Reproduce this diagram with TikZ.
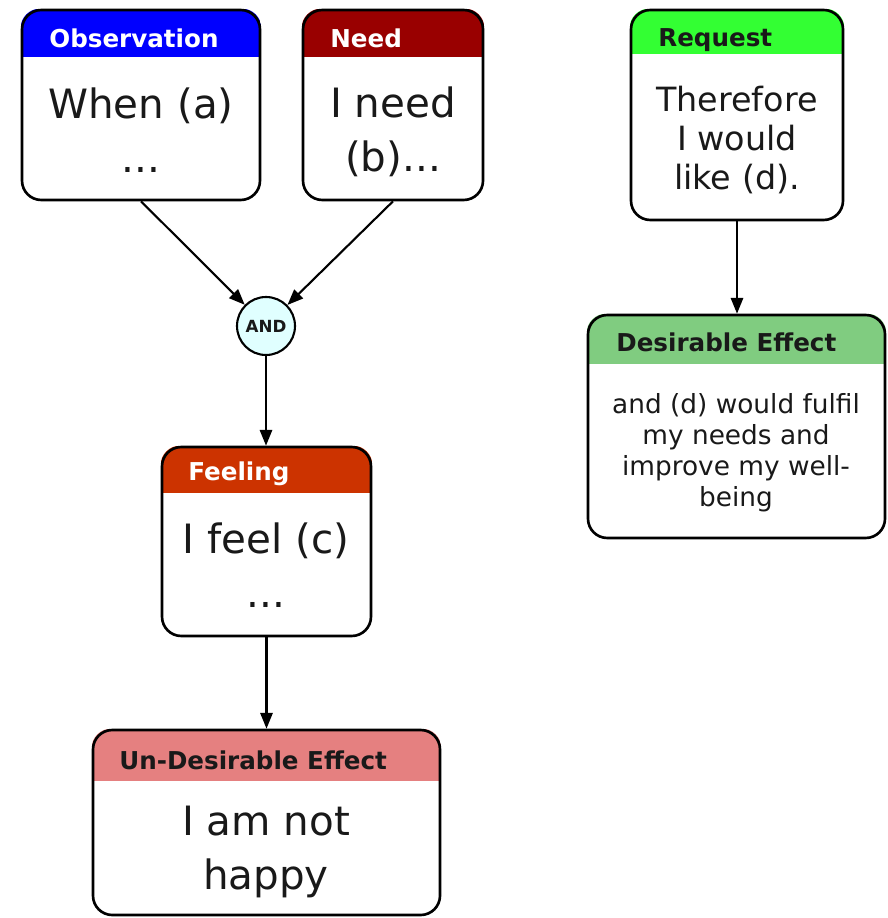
\documentclass[tikz,border=0pt]{standalone}
\usepackage{fontspec}
\setmainfont{DejaVu Sans}
\usetikzlibrary{calc,fit,backgrounds,arrows.meta}

\definecolor{obsblue}{RGB}{0,0,255}
\definecolor{needred}{RGB}{153,0,0}
\definecolor{reqgreen}{RGB}{51,255,51}
\definecolor{desgreen}{RGB}{128,204,128}
\definecolor{feelred}{RGB}{204,51,0}
\definecolor{udepink}{RGB}{229,128,128}
\definecolor{andcyan}{RGB}{224,255,255}
\definecolor{ink}{RGB}{25,25,25}

\tikzset{
  box/.style={draw, line width=1.5pt, rounded corners=11pt, inner sep=0pt},
  hdr/.style={font=\fontsize{14}{16}\selectfont\bfseries, anchor=west, inner sep=0pt, text=ink},
  body/.style={align=center, inner sep=0pt, text=ink, font=\fontsize{23}{30.6}\selectfont},
  arr/.style={-{Triangle[length=9pt,width=7pt]}, line width=1.2pt},
}

% header band of a box: node, colour, depth
\newcommand{\hdrfill}[3]{%
  \begin{scope}
    \clip[rounded corners=11pt] (#1.south west) rectangle (#1.north east);
    \fill[#2] (#1.north west) rectangle ($(#1.north east)+(0,#3)$);
  \end{scope}}

\begin{document}
\begin{tikzpicture}[x=0.02cm,y=-0.02cm]
\useasboundingbox (0,0) rectangle (887,918);
% boxes
\node[box, fit={(22,10) (260,200)}] (obs) {};
\node[box, fit={(303,10) (483,200)}] (need) {};
\node[box, fit={(631,10) (843,220)}] (req) {};
\node[box, fit={(588,315) (885,538)}] (des) {};
\node[box, fit={(162,447) (371,636)}] (feel) {};
\node[box, fit={(93,730) (440,915)}] (ude) {};
\node[draw, circle, line width=1.2pt, fill=andcyan, minimum size=1.16cm, inner sep=0pt,
  font=\fontsize{9.5}{10}\selectfont\bfseries, text=ink] (and) at (266,326) {AND};
% header bands
\begin{scope}[on background layer]
\hdrfill{obs}{obsblue}{48}
\hdrfill{need}{needred}{48}
\hdrfill{req}{reqgreen}{45}
\hdrfill{des}{desgreen}{50}
\hdrfill{feel}{feelred}{47}
\hdrfill{ude}{udepink}{52}
\end{scope}
% titles
\node[hdr, text=white] (obst) at (49,38) {Observation};
\node[hdr, text=white] (needt) at (330,38) {Need};
\node[hdr] (reqt) at (658,40) {Request};
\node[hdr] (dest) at (616,342) {Desirable Effect};
\node[hdr, text=white] (feelt) at (188,474) {Feeling};
\node[hdr] (udet) at (119,760) {Un-Desirable Effect};
% texts
\node[body] (obsb) at (141,130) {When (a)\\...};
\node[body] (needb) at (393,132) {I need\\(b)...};
\node[body, font=\fontsize{19}{22}\selectfont] (reqb) at (737,140) {Therefore\\I would\\like (d).};
\node[body, font=\fontsize{15}{17.6}\selectfont] (desb) at (736,453)
  {and (d) would fulfil\\my needs and\\improve my well-\\being};
\node[body] (feelb) at (266,565) {I feel (c)\\...};
\node[body] (udeb) at (266,852) {I am not\\happy};
% arrows
\draw[arr] (obs.south) -- (and);
\draw[arr] (need.south) -- (and);
\draw[arr] (and.south) -- (and.south |- feel.north);
\draw[arr] (feel.south) -- (feel.south |- ude.north);
\draw[arr] (req.south) -- (req.south |- des.north);
\end{tikzpicture}
\end{document}
